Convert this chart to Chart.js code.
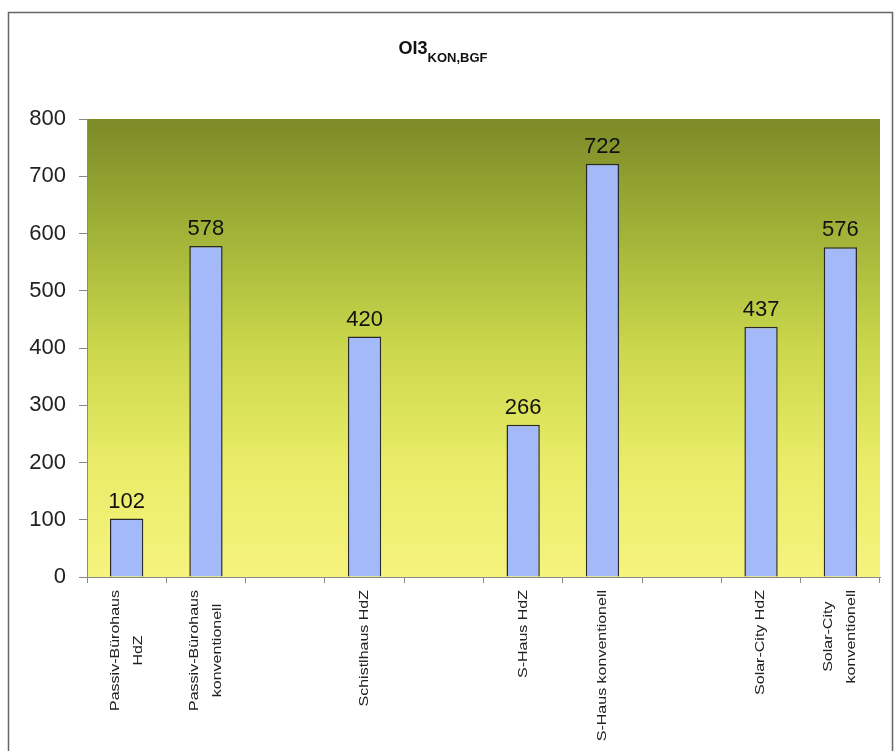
<!DOCTYPE html>
<html>
<head>
<meta charset="utf-8">
<script src="https://cdn.jsdelivr.net/npm/chart.js@4/dist/chart.umd.min.js"></script>
<style>
html,body{margin:0;padding:0;background:#fff;}
#c{display:block;width:896px;height:751px;}
</style>
</head>
<body>
<canvas id="c" width="896" height="751"></canvas>
<script>
// ---- data ----
const categories = [
  ["Passiv-Bürohaus", "HdZ"],
  ["Passiv-Bürohaus", "konventionell"],
  "",
  "Schistlhaus HdZ",
  "",
  "S-Haus HdZ",
  "S-Haus konventionell",
  "",
  "Solar-City HdZ",
  ["Solar-City", "konventionell"]
];
const values = [102, 578, null, 420, null, 266, 722, null, 437, 576];
const yTickValues = [0, 100, 200, 300, 400, 500, 600, 700, 800];
const titleMain = "OI3";
const titleSub = "KON,BGF";

const FONT = "'Liberation Sans', Arial, sans-serif";

const framePlugin = {
  id: 'framePlugin',
  beforeDraw(chart) {
    const ctx = chart.ctx;
    const a = chart.chartArea;
    ctx.save();
    ctx.fillStyle = '#ffffff';
    ctx.fillRect(0, 0, chart.width, chart.height);
    ctx.strokeStyle = '#666666';
    ctx.lineWidth = 1.5;
    ctx.strokeRect(8.5, 12.5, 884, 760);
    const g = ctx.createLinearGradient(0, a.top, 0, a.bottom);
    g.addColorStop(0, '#7c8a28');
    g.addColorStop(0.25, '#a1b338');
    g.addColorStop(0.5, '#cbd74c');
    g.addColorStop(0.75, '#e9ec68');
    g.addColorStop(1, '#f6f37e');
    ctx.fillStyle = g;
    ctx.fillRect(a.left, a.top, a.right - a.left, a.bottom - a.top);
    ctx.restore();
  },
  afterDraw(chart) {
    const ctx = chart.ctx;
    ctx.save();
    // title with subscript
    ctx.fillStyle = '#111111';
    ctx.textBaseline = 'alphabetic';
    ctx.font = 'bold 18px ' + FONT;
    const w1 = ctx.measureText(titleMain).width;
    ctx.font = 'bold 13px ' + FONT;
    const w2 = ctx.measureText(titleSub).width;
    const cx = 443;
    const x0 = cx - (w1 + w2) / 2;
    ctx.textAlign = 'left';
    ctx.font = 'bold 18px ' + FONT;
    ctx.fillText(titleMain, x0, 54);
    ctx.font = 'bold 13px ' + FONT;
    ctx.fillText(titleSub, x0 + w1, 62);

    // x category labels (rotated, centered lines)
    const xs = chart.scales.x;
    ctx.font = '16px ' + FONT;
    ctx.fillStyle = '#222222';
    const top = 590;
    const lineGap = 23;
    chart.data.labels.forEach((lab, i) => {
      const lines = Array.isArray(lab) ? lab : [lab];
      if (!lines.join('')) return;
      const x = xs.getPixelForTick(i);
      let W = 0;
      lines.forEach(l => { W = Math.max(W, ctx.measureText(l).width); });
      const n = lines.length;
      lines.forEach((l, j) => {
        const off = (j - (n - 1) / 2) * lineGap;
        ctx.save();
        ctx.translate(x + off, top + W / 2);
        ctx.rotate(-Math.PI / 2);
        ctx.scale(1, 0.78);
        ctx.textAlign = 'center';
        ctx.textBaseline = 'middle';
        ctx.fillText(l, 0, 0);
        ctx.restore();
      });
    });

    // value labels above bars
    const meta = chart.getDatasetMeta(0);
    ctx.font = '22px ' + FONT;
    ctx.fillStyle = '#111111';
    ctx.textAlign = 'center';
    ctx.textBaseline = 'alphabetic';
    meta.data.forEach((bar, i) => {
      const v = chart.data.datasets[0].data[i];
      if (v === null || v === undefined) return;
      ctx.fillText(String(v), bar.x, bar.y - 11);
    });
    ctx.restore();
  }
};

new Chart(document.getElementById('c'), {
  type: 'bar',
  data: {
    labels: categories,
    datasets: [{
      data: values,
      backgroundColor: '#a3b9f8',
      borderColor: '#2a2a2a',
      borderWidth: 1.5,
      barPercentage: 0.42,
      categoryPercentage: 1.0
    }]
  },
  options: {
    responsive: false,
    animation: false,
    devicePixelRatio: 1,
    layout: { padding: { left: 0, top: 119, right: 16, bottom: 0 } },
    plugins: { legend: { display: false }, title: { display: false }, tooltip: { enabled: false } },
    scales: {
      x: {
        offset: true,
        grid: { display: true, drawOnChartArea: false, drawTicks: true, tickLength: 6, color: '#888888', offset: true },
        border: { display: true, color: '#8a8a8a', width: 1 },
        ticks: { display: false },
        afterFit(scale) { scale.height = 751 - 577; }
      },
      y: {
        min: 0,
        max: 800,
        afterBuildTicks(scale) { scale.ticks = yTickValues.map(v => ({ value: v })); },
        grid: { display: true, drawOnChartArea: false, drawTicks: true, tickLength: 8, color: '#888888' },
        border: { display: true, color: '#8a8a8a', width: 1 },
        ticks: { font: { family: FONT, size: 22 }, color: '#222222', padding: 13 },
        afterFit(scale) { scale.width = 87; }
      }
    }
  },
  plugins: [framePlugin]
});
</script>
</body>
</html>
